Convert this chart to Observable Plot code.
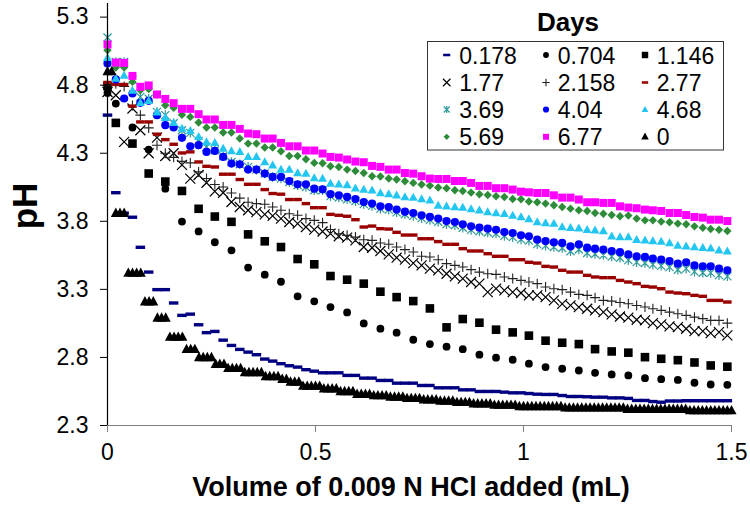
<!DOCTYPE html>
<html><head><meta charset="utf-8">
<script src="https://cdn.jsdelivr.net/npm/d3@7"></script>
<script src="https://cdn.jsdelivr.net/npm/@observablehq/plot@0.6"></script>
<style>
html,body{margin:0;padding:0;background:#fff;}
#chart{width:750px;height:505px;}
</style></head><body><div id="chart"></div>
<script>
// ---------- DATA ----------
const days = ["0.178","0.704","1.146","1.77","2.158","2.77","3.69","4.04","4.68","5.69","6.77","0"];
const xTicks = [0, 0.5, 1, 1.5];
const yTicks = [2.3, 2.8, 3.3, 3.8, 4.3, 4.8, 5.3];

const xFine = [0,0.020,0.040,0.060,0.079,0.099,0.119,0.139,0.159,0.179,0.199,0.219,0.238,0.258,0.278,0.298,0.318,0.338,0.358,0.378,
0.397,0.417,0.437,0.457,0.477,0.497,0.517,0.536,0.556,0.576,0.596,0.616,0.636,0.656,0.676,0.695,0.715,0.735,0.755,0.775,
0.795,0.815,0.835,0.854,0.874,0.894,0.914,0.934,0.954,0.974,0.994,1.013,1.033,1.053,1.073,1.093,1.113,1.133,1.153,1.172,
1.192,1.212,1.232,1.252,1.272,1.292,1.311,1.331,1.351,1.371,1.391,1.411,1.431,1.450,1.470,1.490];

const xCoarse = [0,0.020,0.060,0.099,0.139,0.179,0.219,0.258,0.298,0.338,0.378,0.417,0.457,0.497,0.536,0.576,0.616,0.656,0.695,0.735,
0.775,0.815,0.854,0.894,0.934,0.974,1.013,1.053,1.093,1.133,1.172,1.212,1.252,1.292,1.331,1.371,1.411,1.450,1.490];

const xDay0 = [0,0.01,0.02,0.03,0.04,0.05,0.06,0.07,0.08,0.09,0.1,0.11,0.12,0.13,0.14,0.15,0.16,0.17,0.18,0.19,
0.2,0.21,0.22,0.23,0.24,0.25,0.26,0.27,0.28,0.29,0.3,0.31,0.32,0.33,0.34,0.35,0.36,0.37,0.38,0.39,
0.4,0.41,0.42,0.43,0.44,0.45,0.46,0.47,0.48,0.49,0.5,0.51,0.52,0.53,0.54,0.55,0.56,0.57,0.58,0.59,
0.6,0.61,0.62,0.63,0.64,0.65,0.66,0.67,0.68,0.69,0.7,0.71,0.72,0.73,0.74,0.75,0.76,0.77,0.78,0.79,
0.8,0.81,0.82,0.83,0.84,0.85,0.86,0.87,0.88,0.89,0.9,0.91,0.92,0.93,0.94,0.95,0.96,0.97,0.98,0.99,
1,1.01,1.02,1.03,1.04,1.05,1.06,1.07,1.08,1.09,1.1,1.11,1.12,1.13,1.14,1.15,1.16,1.17,1.18,1.19,
1.2,1.21,1.22,1.23,1.24,1.25,1.26,1.27,1.28,1.29,1.3,1.31,1.32,1.33,1.34,1.35,1.36,1.37,1.38,1.39,
1.4,1.41,1.42,1.43,1.44,1.45,1.46,1.47,1.48,1.49,1.5];

const pH_0178 = [4.58,4.01,3.86,3.83,3.609,3.427,3.298,3.298,3.20,3.109,3.118,3.04,2.982,2.991,2.927,2.888,2.859,2.839,2.82,2.788,
2.773,2.754,2.739,2.729,2.71,2.699,2.687,2.687,2.687,2.668,2.668,2.648,2.648,2.631,2.631,2.611,2.611,2.611,2.594,2.594,
2.577,2.577,2.577,2.562,2.562,2.55,2.55,2.55,2.545,2.54,2.54,2.535,2.53,2.528,2.528,2.52,2.513,2.513,2.511,2.508,
2.508,2.503,2.503,2.499,2.484,2.484,2.476,2.471,2.48,2.48,2.482,2.482,2.482,2.482,2.482,2.482];

const pH_0704 = [4.743,4.665,4.489,4.327,4.04,3.798,3.726,3.646,3.587,3.46,3.408,3.356,3.249,3.212,3.17,3.131,3.05,3.011,2.982,2.93,
2.898,2.879,2.861,2.82,2.798,2.783,2.754,2.729,2.717,2.704,2.687,2.675,2.668,2.648,2.64,2.635,2.614,2.601,2.599];

const pH_1146 = [4.793,4.523,4.371,4.151,4.092,4.023,3.892,3.835,3.796,3.704,3.653,3.611,3.523,3.484,3.398,3.371,3.342,3.283,3.243,3.214,
3.16,3.021,3.082,3.055,3.004,2.984,2.96,2.923,2.908,2.898,2.861,2.844,2.835,2.802,2.79,2.78,2.763,2.741,2.732];

const pH_177 = [4.75,4.726,4.383,4.629,4.469,4.30,4.415,4.28,4.30,4.215,4.114,4.14,4.083,4.02,4.01,3.942,3.905,3.881,3.868,3.851,
3.84,3.82,3.795,3.783,3.758,3.739,3.725,3.709,3.69,3.68,3.66,3.611,3.606,3.582,3.557,3.533,3.518,3.493,3.476,3.452,
3.44,3.415,3.396,3.379,3.354,3.342,3.28,3.305,3.293,3.28,3.273,3.256,3.256,3.243,3.219,3.194,3.182,3.17,3.158,3.146,
3.133,3.116,3.101,3.092,3.077,3.072,3.052,3.043,3.028,3.023,3.011,2.993,2.993,2.979,2.986,2.962];

const pH_2158 = [4.80,4.81,4.79,4.65,4.58,4.486,4.359,4.30,4.27,4.24,4.229,4.163,4.114,4.07,4.052,4.008,3.97,3.94,3.93,3.925,
3.905,3.881,3.856,3.844,3.82,3.807,3.79,3.74,3.709,3.697,3.684,3.665,3.66,3.641,3.631,3.611,3.592,3.574,3.543,3.538,
3.518,3.489,3.476,3.464,3.445,3.427,3.415,3.41,3.391,3.379,3.366,3.354,3.342,3.317,3.305,3.298,3.28,3.263,3.256,3.239,
3.219,3.214,3.204,3.194,3.182,3.17,3.158,3.146,3.133,3.121,3.109,3.096,3.085,3.072,3.072,3.052];

const pH_277 = [4.82,4.805,4.805,4.646,4.53,4.53,4.44,4.40,4.366,4.302,4.31,4.236,4.204,4.199,4.146,4.146,4.107,4.072,4.072,4.033,
4.004,3.999,3.96,3.96,3.93,3.90,3.90,3.851,3.844,3.837,3.812,3.758,3.765,3.746,3.743,3.719,3.699,3.699,3.672,3.672,
3.651,3.631,3.631,3.599,3.582,3.582,3.562,3.543,3.543,3.518,3.518,3.499,3.493,3.469,3.464,3.44,3.427,3.427,3.403,3.391,
3.386,3.386,3.366,3.354,3.342,3.322,3.317,3.305,3.28,3.273,3.268,3.256,3.249,3.219,3.219,3.207];

const pH_369 = [5.15,4.97,4.97,4.84,4.714,4.70,4.604,4.58,4.52,4.469,4.45,4.388,4.346,4.322,4.278,4.236,4.219,4.20,4.18,4.151,
4.126,4.114,4.089,4.065,4.052,4.028,4.028,3.985,3.975,3.962,3.948,3.926,3.913,3.893,3.886,3.866,3.852,3.84,3.823,3.81,
3.797,3.779,3.771,3.753,3.737,3.727,3.718,3.71,3.693,3.684,3.667,3.658,3.632,3.621,3.611,3.604,3.58,3.593,3.567,3.56,
3.552,3.541,3.532,3.515,3.5,3.494,3.482,3.473,3.463,3.444,3.452,3.43,3.422,3.421,3.405,3.396];

const pH_404 = [4.96,4.842,4.702,4.739,4.67,4.685,4.58,4.506,4.489,4.413,4.351,4.359,4.31,4.317,4.273,4.224,4.219,4.18,4.18,4.151,
4.126,4.126,4.096,4.072,4.072,4.04,4.035,3.999,3.991,3.979,3.964,3.942,3.93,3.91,3.905,3.886,3.871,3.861,3.844,3.832,
3.82,3.802,3.795,3.778,3.763,3.753,3.746,3.738,3.721,3.714,3.697,3.69,3.665,3.655,3.646,3.641,3.616,3.631,3.606,3.599,
3.592,3.582,3.574,3.557,3.543,3.538,3.526,3.518,3.508,3.489,3.499,3.476,3.469,3.469,3.452,3.44];

const pH_468 = [5.002,4.849,4.87,4.76,4.67,4.685,4.60,4.56,4.523,4.482,4.464,4.42,4.383,4.376,4.335,4.317,4.31,4.273,4.273,4.236,
4.212,4.18,4.18,4.155,4.15,4.118,4.114,4.077,4.072,4.067,4.043,4.033,4.028,4.008,4.001,3.991,3.979,3.974,3.964,3.954,
3.915,3.91,3.905,3.901,3.89,3.881,3.868,3.861,3.856,3.842,3.832,3.817,3.795,3.788,3.783,3.758,3.753,3.749,3.738,3.734,
3.729,3.69,3.684,3.684,3.665,3.66,3.655,3.651,3.641,3.621,3.616,3.611,3.606,3.601,3.587,3.579];

const pH_569 = [5.057,4.93,4.93,4.824,4.763,4.771,4.729,4.653,4.633,4.582,4.567,4.526,4.489,4.489,4.452,4.452,4.408,4.371,4.371,4.342,
4.342,4.315,4.28,4.28,4.256,4.229,4.226,4.204,4.199,4.18,4.17,4.155,4.131,4.129,4.114,4.107,4.094,4.082,4.07,4.062,
4.048,4.043,4.028,4.023,4.011,3.999,3.993,3.984,3.979,3.964,3.962,3.945,3.94,3.93,3.918,3.905,3.893,3.881,3.876,3.861,
3.856,3.846,3.837,3.842,3.82,3.807,3.807,3.798,3.793,3.783,3.778,3.763,3.753,3.743,3.738,3.729];

const pH_677 = [5.099,4.966,4.964,4.868,4.788,4.798,4.732,4.699,4.668,4.626,4.626,4.587,4.548,4.548,4.508,4.508,4.479,4.445,4.44,4.408,
4.408,4.376,4.351,4.351,4.32,4.32,4.298,4.273,4.268,4.254,4.239,4.234,4.207,4.2,4.18,4.18,4.155,4.15,4.131,4.114,
4.111,4.111,4.096,4.096,4.082,4.06,4.06,4.043,4.043,4.033,4.018,4.013,4.008,4.008,3.991,3.974,3.974,3.96,3.94,3.94,
3.935,3.935,3.91,3.901,3.896,3.886,3.881,3.876,3.861,3.861,3.846,3.832,3.827,3.812,3.812,3.802];

const pH_0 = [4.90,4.90,3.86,3.86,3.86,3.42,3.42,3.42,3.42,3.21,3.21,3.21,3.09,3.09,3.09,2.95,2.95,2.95,2.95,2.86,
2.86,2.86,2.80,2.80,2.80,2.80,2.75,2.75,2.75,2.72,2.72,2.72,2.72,2.69,2.69,2.69,2.69,2.69,2.66,2.66,
2.66,2.66,2.64,2.64,2.62,2.62,2.62,2.59,2.59,2.59,2.59,2.59,2.57,2.57,2.57,2.57,2.55,2.55,2.55,2.55,
2.53,2.53,2.53,2.53,2.52,2.52,2.52,2.52,2.51,2.51,2.51,2.51,2.50,2.50,2.50,2.50,2.49,2.49,2.49,2.49,
2.48,2.48,2.48,2.48,2.47,2.47,2.47,2.47,2.46,2.46,2.46,2.46,2.46,2.45,2.45,2.45,2.45,2.45,2.45,2.44,
2.44,2.44,2.44,2.44,2.44,2.44,2.44,2.44,2.44,2.44,2.43,2.43,2.43,2.43,2.43,2.43,2.43,2.43,2.43,2.43,
2.43,2.43,2.43,2.43,2.43,2.42,2.42,2.42,2.42,2.42,2.42,2.42,2.42,2.42,2.42,2.42,2.42,2.42,2.42,2.42,
2.41,2.41,2.41,2.41,2.41,2.41,2.41,2.41,2.41,2.41,2.41];

// ---------- SYMBOLS ----------
function makeSym(type, k = 1) {
  return { draw(c) {
    const poly = pts => { c.moveTo(pts[0][0], pts[0][1]); for (let i = 1; i < pts.length; i++) c.lineTo(pts[i][0], pts[i][1]); c.closePath(); };
    const rect = (w, h) => poly([[-w/2,-h/2],[w/2,-h/2],[w/2,h/2],[-w/2,h/2]]);
    const line = (x1,y1,x2,y2) => { c.moveTo(x1,y1); c.lineTo(x2,y2); };
    switch (type) {
      case "dash": rect(9.5*k, 3.4*k); break;
      case "dashR": rect(8.5*k, 3.4*k); break;
      case "circle": { const r = 3.9*k; c.moveTo(r,0); c.arc(0,0,r,0,2*Math.PI); c.closePath(); break; }
      case "circleB": { const r = 4.1*k; c.moveTo(r,0); c.arc(0,0,r,0,2*Math.PI); c.closePath(); break; }
      case "square": rect(8.6*k, 8.6*k); break;
      case "squareP": rect(8*k, 8*k); break;
      case "times": { const h = 5*k; line(-h,-h,h,h); line(-h,h,h,-h); break; }
      case "plus": { const h = 5*k; line(-h,0,h,0); line(0,-h,0,h); break; }
      case "aster": { const h = 4*k; line(-h,-h,h,h); line(-h,h,h,-h); line(0,-h-0.8*k,0,h+0.8*k); break; }
      case "diamond": { const h = 4.2*k; poly([[0,-h],[h,0],[0,h],[-h,0]]); break; }
      case "tri": { const w = 9*k, h = 8*k; poly([[0,-h*0.6],[w/2,h*0.4],[-w/2,h*0.4]]); break; }
      case "triB": { const w = 10*k, h = 9.4*k; poly([[0,-h*0.6],[w/2,h*0.4],[-w/2,h*0.4]]); break; }
    }
  }};
}

const series = [
  {name: days[0],  x: xFine,   y: pH_0178, type: "dash",    fill: "#000080"},
  {name: days[1],  x: xCoarse, y: pH_0704, type: "circle",  fill: "#000000"},
  {name: days[2],  x: xCoarse, y: pH_1146, type: "square",  fill: "#000000"},
  {name: days[3],  x: xFine,   y: pH_177,  type: "times",   stroke: "#000000", sw: 1.2},
  {name: days[4],  x: xFine,   y: pH_2158, type: "plus",    stroke: "#222222", sw: 1.1},
  {name: days[5],  x: xFine,   y: pH_277,  type: "dashR",   fill: "#990000"},
  {name: days[6],  x: xFine,   y: pH_369,  type: "aster",   stroke: "#2f9a9a", sw: 1.2},
  {name: days[7],  x: xFine,   y: pH_404,  type: "circleB", fill: "#0000ff"},
  {name: days[8],  x: xFine,   y: pH_468,  type: "tri",     fill: "#22c6f0"},
  {name: days[9],  x: xFine,   y: pH_569,  type: "diamond", fill: "#2e8b3a"},
  {name: days[10], x: xFine,   y: pH_677,  type: "squareP", fill: "#ff00ff"},
  {name: days[11], x: xDay0,   y: pH_0,    type: "triB",    fill: "#000000"}
];

const dotMarks = series.map(s => {
  const rows = s.x.map((x, i) => ({x, y: s.y[i]}));
  return Plot.dot(rows, {
    x: "x", y: "y", r: 4,
    symbol: makeSym(s.type),
    fill: s.fill || "none",
    stroke: s.stroke || "none",
    strokeWidth: s.sw || 0
  });
});

const font = "'Liberation Sans', Arial, sans-serif";

const plot = Plot.plot({
  width: 750, height: 505,
  marginLeft: 107, marginRight: 19, marginTop: 3, marginBottom: 80,
  style: {fontFamily: font, background: "#fff", color: "#000"},
  x: {domain: [0, 1.5]},
  y: {domain: [2.3, 5.4]},
  marks: [
    Plot.ruleY([2.3], {stroke: "#808080", strokeWidth: 1.2}),
    ...dotMarks,
    Plot.ruleX([0], {stroke: "#000", strokeWidth: 1.2}),
    Plot.axisY(yTicks, {tickSize: 7, tickPadding: 12, fontSize: 23, tickFormat: d3.format(".1f"), label: null, stroke: "#000"}),
    Plot.axisX(xTicks, {tickSize: 7, tickPadding: 11, fontSize: 23, tickFormat: d => String(d), label: null, stroke: "#808080"})
  ]
});
document.getElementById("chart").appendChild(plot);

// ---------- TITLES & LEGEND ----------
const svg = d3.select(plot);
svg.append("text").attr("transform", "translate(37,206) rotate(-90)")
  .attr("text-anchor", "middle").attr("font-family", font).attr("font-weight", "bold")
  .attr("font-size", 35).attr("fill", "#000").text("pH");
svg.append("text").attr("x", 411).attr("y", 496)
  .attr("text-anchor", "middle").attr("font-family", font).attr("font-weight", "bold")
  .attr("font-size", 27).attr("fill", "#000").text("Volume of 0.009 N HCl added (mL)");

const lg = svg.append("g").attr("font-family", font);
lg.append("text").attr("x", 568).attr("y", 31).attr("text-anchor", "middle")
  .attr("font-weight", "bold").attr("font-size", 26).attr("fill", "#000").text("Days");
lg.append("rect").attr("x", 427.5).attr("y", 41.5).attr("width", 296).attr("height", 108.5)
  .attr("fill", "#fff").attr("stroke", "#333").attr("stroke-width", 1);
const colMark = [446.7, 546, 645], colText = [459.3, 557.7, 656.7];
const rowY = [55, 82.5, 109.5, 136.8];
series.forEach((s, i) => {
  const r = Math.floor(i / 3), c = i % 3;
  const p = d3.path();
  makeSym(s.type, 0.75).draw(p);
  lg.append("path").attr("d", p.toString())
    .attr("transform", `translate(${colMark[c]},${rowY[r]})`)
    .attr("fill", s.fill || "none").attr("stroke", s.stroke || "none").attr("stroke-width", s.sw || 0);
  lg.append("text").attr("x", colText[c]).attr("y", rowY[r] + 8.5)
    .attr("text-anchor", "start")
    .attr("font-size", 23).attr("fill", "#000").text(s.name);
});
</script></body></html>
